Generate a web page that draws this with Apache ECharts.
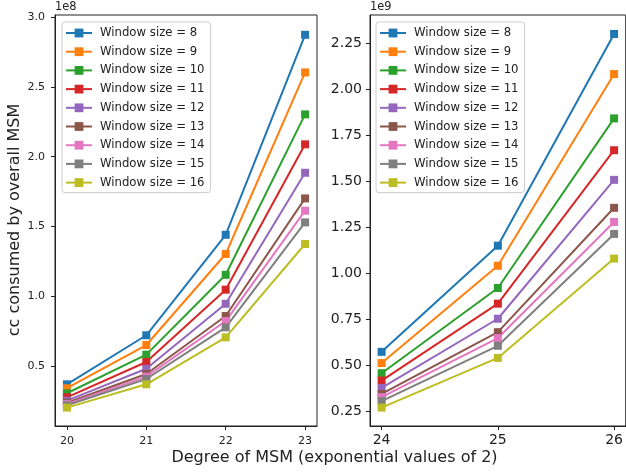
<!DOCTYPE html>
<html>
<head>
<meta charset="utf-8">
<script src="https://cdn.jsdelivr.net/npm/echarts@6/dist/echarts.min.js"></script>
<style>
  html, body { margin: 0; padding: 0; background: #fff; }
  #chart { width: 626px; height: 473px; }
</style>
</head>
<body>
<div id="chart"></div>
<script>
const windowSizes = [8, 9, 10, 11, 12, 13, 14, 15, 16]
const colors = ['#1f77b4', '#ff7f0e', '#2ca02c', '#d62728', '#9467bd', '#8c564b', '#e377c2', '#7f7f7f', '#bcbd22']

// left panel: degree 20..23, values in units of 1e8
const degLeft = [20, 21, 22, 23]
const ccLeft = [
  [0.367, 0.719, 1.440, 2.875],
  [0.339, 0.649, 1.302, 2.605],
  [0.303, 0.580, 1.153, 2.304],
  [0.274, 0.527, 1.046, 2.089],
  [0.250, 0.479, 0.945, 1.885],
  [0.235, 0.441, 0.857, 1.701],
  [0.226, 0.422, 0.821, 1.613],
  [0.217, 0.405, 0.776, 1.529],
  [0.200, 0.367, 0.704, 1.374]
]

// right panel: degree 24..26, values in units of 1e9
const degRight = [24, 25, 26]
const ccRight = [
  [0.574, 1.151, 2.302],
  [0.513, 1.042, 2.084],
  [0.458, 0.921, 1.843],
  [0.418, 0.836, 1.670],
  [0.378, 0.754, 1.509],
  [0.345, 0.681, 1.357],
  [0.328, 0.649, 1.280],
  [0.306, 0.607, 1.215],
  [0.271, 0.541, 1.081]
]

const yTicksLeft = [0.5, 1.0, 1.5, 2.0, 2.5, 3.0]
const yTicksRight = [0.25, 0.5, 0.75, 1.0, 1.25, 1.5, 1.75, 2.0, 2.25]

const FONT = 'DejaVu Sans'
const INK = '#222'
const names = windowSizes.map(w => 'Window size = ' + w)

const makeAxis = (gridIndex, min, max, ticks, fontSize, digits, margin) => ({
  type: 'value',
  gridIndex: gridIndex,
  min: min,
  max: max,
  axisLine: { show: true, onZero: false, lineStyle: { color: INK, width: 1 } },
  axisTick: { show: true, length: 4, customValues: ticks, lineStyle: { color: INK } },
  axisLabel: {
    customValues: ticks,
    fontFamily: FONT,
    fontSize: fontSize,
    color: INK,
    margin: margin,
    formatter: v => Number(v).toFixed(digits)
  },
  splitLine: { show: false }
})

const makeLegend = left => ({
  orient: 'vertical',
  left: left,
  top: 22,
  data: names,
  itemWidth: 26,
  itemHeight: 11,
  itemGap: 6.7,
  padding: [5, 6, 4, 3],
  backgroundColor: 'rgba(255,255,255,0.8)',
  borderColor: '#cccccc',
  borderWidth: 1,
  borderRadius: 3,
  selectedMode: false,
  textStyle: { fontFamily: FONT, fontSize: 11.7, color: INK, padding: [0, 0, 0, 3] }
})

const series = []
windowSizes.forEach((w, i) => {
  series.push({
    name: names[i],
    type: 'line',
    xAxisIndex: 0,
    yAxisIndex: 0,
    data: degLeft.map((d, j) => [d, ccLeft[i][j]]),
    symbol: 'rect',
    symbolSize: 8,
    color: colors[i],
    lineStyle: { width: 2, color: colors[i] },
    itemStyle: { color: colors[i] }
  })
})
windowSizes.forEach((w, i) => {
  series.push({
    name: names[i],
    type: 'line',
    xAxisIndex: 1,
    yAxisIndex: 1,
    data: degRight.map((d, j) => [d, ccRight[i][j]]),
    symbol: 'rect',
    symbolSize: 8,
    color: colors[i],
    lineStyle: { width: 2, color: colors[i] },
    itemStyle: { color: colors[i] }
  })
})

const chart = echarts.init(document.getElementById('chart'), null, { renderer: 'canvas' })
chart.setOption({
  animation: false,
  backgroundColor: '#fff',
  grid: [
    { left: 55, top: 15, width: 262, height: 411, show: true, borderColor: INK, borderWidth: 1 },
    { left: 370, top: 15, width: 262, height: 411, show: true, borderColor: INK, borderWidth: 1 }
  ],
  xAxis: [
    makeAxis(0, 19.85, 23.15, degLeft, 11, 0, 10),
    makeAxis(1, 23.9, 26.1, degRight, 14, 0, 7)
  ],
  yAxis: [
    makeAxis(0, 0.068, 3.017, yTicksLeft, 11, 1, 10),
    makeAxis(1, 0.171, 2.405, yTicksRight, 14, 2, 8)
  ],
  legend: [makeLegend(62), makeLegend(376)],
  graphic: [
    { type: 'text', left: 55, top: 2, style: { text: '1e8', font: '11.4px "DejaVu Sans"', fill: INK } },
    { type: 'text', left: 370, top: 2, style: { text: '1e9', font: '11.4px "DejaVu Sans"', fill: INK } },
    {
      type: 'text', x: 15, y: 220, rotation: Math.PI / 2,
      style: { text: 'cc consumed by overall MSM', font: '16px "DejaVu Sans"', fill: INK, align: 'center', verticalAlign: 'middle' }
    },
    {
      type: 'text', x: 334.5, y: 458,
      style: { text: 'Degree of MSM (exponential values of 2)', font: '16px "DejaVu Sans"', fill: INK, align: 'center', verticalAlign: 'middle' }
    }
  ],
  series: series
})
</script>
</body>
</html>
